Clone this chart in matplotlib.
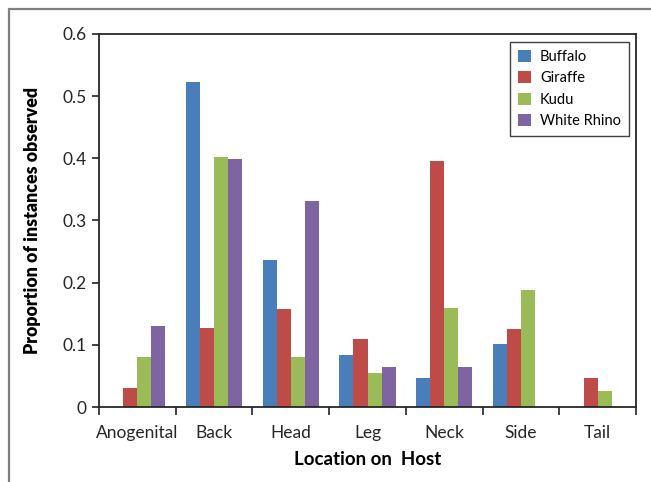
import numpy as np
import matplotlib.pyplot as plt
from matplotlib.patches import Rectangle

plt.rcParams['font.family'] = ['Lato', 'DejaVu Sans']

locations = ['Anogenital', 'Back', 'Head', 'Leg', 'Neck', 'Side', 'Tail']
hosts = ['Buffalo', 'Giraffe', 'Kudu', 'White Rhino']
colors = ['#4a7ebb', '#be4b48', '#9bbb59', '#7f64a2']

buffalo = [0.0, 0.523, 0.236, 0.083, 0.046, 0.102, 0.0]
giraffe = [0.030, 0.127, 0.157, 0.109, 0.396, 0.125, 0.046]
kudu = [0.080, 0.402, 0.080, 0.054, 0.160, 0.188, 0.025]
white_rhino = [0.130, 0.399, 0.331, 0.065, 0.065, 0.0, 0.0]

yticks = [0, 0.1, 0.2, 0.3, 0.4, 0.5, 0.6]
ytick_labels = ['0', '0.1', '0.2', '0.3', '0.4', '0.5', '0.6']

fig = plt.figure(figsize=(6.51, 4.82), dpi=100)

# outer frame (cut off at right and bottom edges)
fig.patches.append(Rectangle((9 / 651, -0.1), 2, 1.1 - 9 / 482, transform=fig.transFigure,
                             fill=False, edgecolor='#7f7f7f', linewidth=1.6))

ax = fig.add_axes([99 / 651, 1 - 407 / 482, 537 / 651, 373 / 482])

x = np.arange(len(locations))
width = 0.183
series = [buffalo, giraffe, kudu, white_rhino]
for i, (name, vals) in enumerate(zip(hosts, series)):
    ax.bar(x + (i - 1.5) * width, vals, width, color=colors[i], label=name)

ax.set_xlim(-0.5, len(locations) - 0.5)
ax.set_ylim(0, 0.6)
ax.set_yticks(yticks)
ax.set_yticklabels(ytick_labels)
ax.set_xticks(x)
ax.set_xticklabels(locations)
ax.set_xticks(np.arange(-0.5, len(locations)), minor=True)
ax.tick_params(axis='x', which='major', length=0, pad=13, labelsize=12.5, colors='#262626')
ax.tick_params(axis='x', which='minor', length=6, width=1.3, color='#333333')
ax.tick_params(axis='y', length=5, width=1.3, color='#333333', labelsize=12.5,
               labelcolor='#262626', pad=4)

for s in ax.spines.values():
    s.set_color('#262626')
    s.set_linewidth(1.3)

ax.set_xlabel('Location on  Host', fontsize=13.5, fontweight='bold', labelpad=7)
ax.set_ylabel('Proportion of instances observed', fontsize=12.8, fontweight='heavy', labelpad=15)

leg = ax.legend(loc='upper right', bbox_to_anchor=(0.987, 0.979), fontsize=10.5,
                fancybox=False, framealpha=1, edgecolor='#404040',
                handlelength=0.9, handleheight=0.9, handletextpad=0.6,
                labelspacing=0.5, borderpad=0.55, borderaxespad=0)
leg.get_frame().set_linewidth(1.0)

fig.savefig('out.png', dpi=100)
